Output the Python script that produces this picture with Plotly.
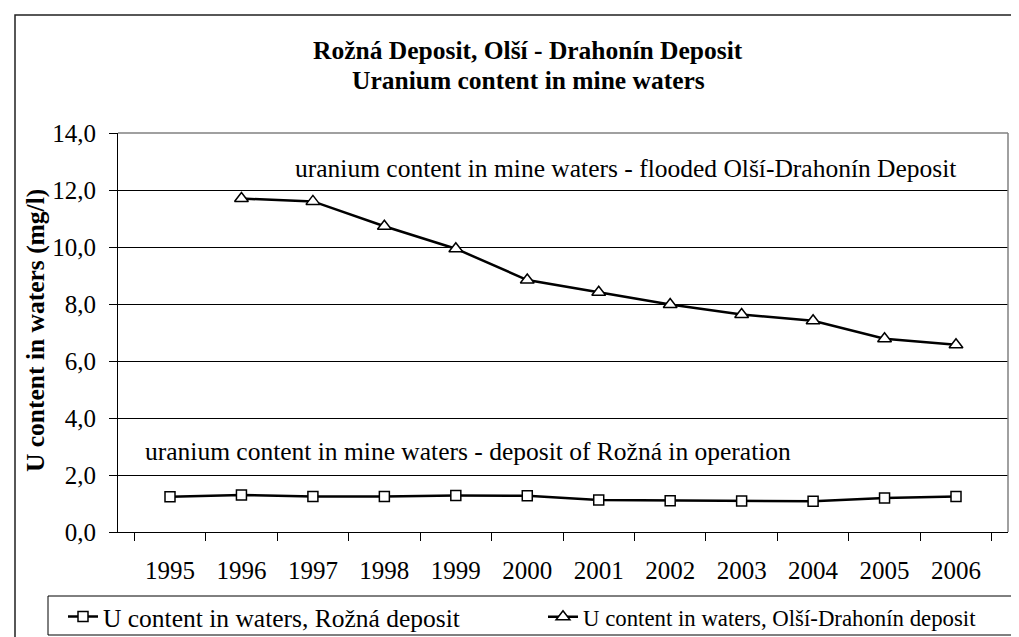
import plotly.graph_objects as go

years = ["1995", "1996", "1997", "1998", "1999", "2000",
         "2001", "2002", "2003", "2004", "2005", "2006"]
rozna = [1.24, 1.30, 1.25, 1.25, 1.28, 1.27, 1.12, 1.10, 1.09, 1.08, 1.19, 1.25]
olsi = [None, 11.70, 11.60, 10.73, 9.94, 8.84, 8.41, 7.98, 7.63, 7.41, 6.78, 6.57]

name_rozna = "U content in waters, Rožná deposit"
name_olsi = "U content in waters, Olší-Drahonín deposit"
title_line1 = "Rožná Deposit, Olší - Drahonín Deposit"
title_line2 = "Uranium content in mine waters"
ytitle = "U content in waters (mg/l)"
note_olsi = "uranium content in mine waters - flooded Olší-Drahonín Deposit"
note_rozna = "uranium content in mine waters - deposit of Rožná in operation"

FONT = "Liberation Serif"
FS = 25.5
W, H = 1019, 637
L, R, T, B = 110, 19, 125, 113
PW = W - L - R
PH = H - T - B


def px(x):
    return (x - L) / PW


def py(y):
    return (H - B - y) / PH


fig = go.Figure()
fig.add_trace(go.Scatter(
    x=years, y=rozna, name=name_rozna, mode="lines+markers", legend="legend",
    line=dict(color="black", width=2.5),
    marker=dict(symbol="square", size=10, color="white",
                line=dict(color="black", width=1.5)),
))
fig.add_trace(go.Scatter(
    x=years, y=olsi, name=name_olsi, mode="lines+markers", legend="legend2",
    line=dict(color="black", width=2.5),
    marker=dict(symbol="triangle-up", size=12, color="white",
                line=dict(color="black", width=1.5)),
))

legend_common = dict(orientation="h", yanchor="middle", y=py(609),
                     xanchor="left", bgcolor="rgba(0,0,0,0)", borderwidth=0,
                     itemwidth=30)

fig.update_layout(
    width=W, height=H, autosize=False,
    margin=dict(l=L, r=R, t=T, b=B, pad=0, autoexpand=False),
    paper_bgcolor="white", plot_bgcolor="white",
    separators=", ",
    font=dict(family=FONT, size=FS, color="black"),
    showlegend=True,
    legend=dict(x=px(55), font=dict(family=FONT, size=FS, color="black"),
                **legend_common),
    legend2=dict(x=px(535), font=dict(family=FONT, size=22.8, color="black"),
                 **legend_common),
    xaxis=dict(type="category", tickson="boundaries", ticks="outside", ticklen=8,
               tickcolor="black", tickwidth=1, showline=True, linecolor="black",
               linewidth=1, showgrid=False, zeroline=False, automargin=False,
               tickfont=dict(family=FONT, size=25, color="black"),
               ticklabelstandoff=16),
    yaxis=dict(range=[0, 14], dtick=2, tick0=0, tickformat=".1f", ticks="outside",
               ticklen=8, tickcolor="black", tickwidth=1, showline=True,
               linecolor="black", linewidth=1, showgrid=True, gridcolor="black",
               gridwidth=1, zeroline=False, automargin=False,
               tickfont=dict(family=FONT, size=25, color="black"),
               ticklabelstandoff=8),
)

# title (two lines placed individually)
fig.add_annotation(text="<b>" + title_line1 + "</b>", xref="paper", yref="paper",
                   x=px(520), y=py(43), xanchor="center", yanchor="middle",
                   showarrow=False, font=dict(family=FONT, size=25.5, color="black"))
fig.add_annotation(text="<b>" + title_line2 + "</b>", xref="paper", yref="paper",
                   x=px(520), y=py(72), xanchor="center", yanchor="middle",
                   showarrow=False, font=dict(family=FONT, size=25.5, color="black"))

fig.add_annotation(text=note_olsi, xref="paper", yref="paper", x=px(285), y=py(160),
                   xanchor="left", yanchor="middle", showarrow=False,
                   font=dict(family=FONT, size=FS, color="black"))
fig.add_annotation(text=note_rozna, xref="paper", yref="paper", x=px(135), y=py(443),
                   xanchor="left", yanchor="middle", showarrow=False,
                   font=dict(family=FONT, size=FS, color="black"))
fig.add_annotation(text="<b>" + ytitle + "</b>", xref="paper", yref="paper",
                   x=px(27), y=py(323), xanchor="center", yanchor="middle",
                   textangle=-90, showarrow=False,
                   font=dict(family=FONT, size=25.5, color="black"))

# outer chart border
fig.add_shape(type="rect", xref="paper", yref="paper",
              x0=px(7), x1=px(1040), y0=py(660), y1=py(7),
              line=dict(color="#202020", width=1.5), layer="above")
# plot area top/right border (grey)
fig.add_shape(type="line", xref="paper", yref="paper", x0=0, x1=1, y0=1, y1=1,
              line=dict(color="#808080", width=1.5), layer="above")
fig.add_shape(type="line", xref="paper", yref="paper", x0=1, x1=1, y0=0, y1=1,
              line=dict(color="#808080", width=1.5), layer="above")
# legend frame
fig.add_shape(type="rect", xref="paper", yref="paper",
              x0=px(40), x1=px(1005), y0=py(627), y1=py(588),
              line=dict(color="black", width=1), layer="above")

fig.write_html("out.html")
